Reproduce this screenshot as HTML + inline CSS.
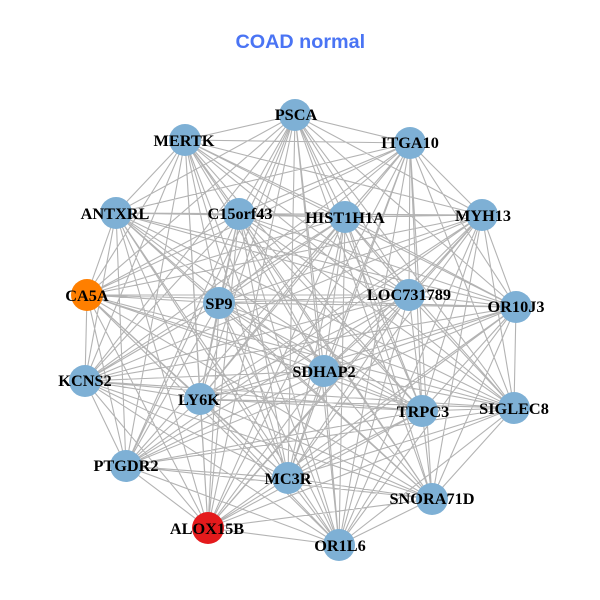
<!DOCTYPE html>
<html><head><meta charset="utf-8"><style>
html,body{margin:0;padding:0;background:#fff}
svg{display:block}
text.n{font-family:"Liberation Serif",serif;font-weight:bold;font-size:16.3px;text-anchor:middle;fill:#000}
</style></head><body>
<svg width="600" height="600" viewBox="0 0 600 600" xmlns="http://www.w3.org/2000/svg">
<rect width="600" height="600" fill="#fff"/>
<text x="300.3" y="48" text-anchor="middle" style="font-family:'Liberation Sans',sans-serif;font-weight:bold;font-size:19.8px" fill="#4a74f4">COAD normal</text>
<path fill="none" stroke="#b3b3b3" stroke-width="1.1" d="
M295 115 185 140M295 115 410 143M295 115 116 213M295 115 239 214M295 115 345 217M295 115 482 215M295 115 87 295M295 115 219 303M295 115 409 295M295 115 516 307M295 115 85 381M295 115 324 371M295 115 200 399M295 115 422 411M295 115 514 408M295 115 126 466M295 115 288 478M295 115 432 499M295 115 208 528M295 115 339 545
M185 140 410 143M185 140 116 213M185 140 239 214M185 140 345 217M185 140 482 215M185 140 87 295M185 140 219 303M185 140 409 295M185 140 516 307M185 140 85 381M185 140 324 371M185 140 200 399M185 140 422 411M185 140 514 408M185 140 126 466M185 140 288 478M185 140 432 499M185 140 208 528M185 140 339 545
M410 143 116 213M410 143 239 214M410 143 345 217M410 143 482 215M410 143 87 295M410 143 219 303M410 143 409 295M410 143 516 307M410 143 85 381M410 143 324 371M410 143 200 399M410 143 422 411M410 143 514 408M410 143 126 466M410 143 288 478M410 143 432 499M410 143 208 528M410 143 339 545
M116 213 239 214M116 213 345 217M116 213 482 215M116 213 87 295M116 213 219 303M116 213 409 295M116 213 516 307M116 213 85 381M116 213 324 371M116 213 200 399M116 213 422 411M116 213 514 408M116 213 126 466M116 213 288 478M116 213 432 499M116 213 208 528M116 213 339 545
M239 214 345 217M239 214 482 215M239 214 87 295M239 214 219 303M239 214 409 295M239 214 516 307M239 214 85 381M239 214 324 371M239 214 200 399M239 214 422 411M239 214 514 408M239 214 126 466M239 214 288 478M239 214 432 499M239 214 208 528M239 214 339 545
M345 217 482 215M345 217 87 295M345 217 219 303M345 217 409 295M345 217 516 307M345 217 85 381M345 217 324 371M345 217 200 399M345 217 422 411M345 217 514 408M345 217 126 466M345 217 288 478M345 217 432 499M345 217 208 528M345 217 339 545
M482 215 87 295M482 215 219 303M482 215 409 295M482 215 516 307M482 215 85 381M482 215 324 371M482 215 200 399M482 215 422 411M482 215 514 408M482 215 126 466M482 215 288 478M482 215 432 499M482 215 208 528M482 215 339 545
M87 295 219 303M87 295 409 295M87 295 516 307M87 295 85 381M87 295 324 371M87 295 200 399M87 295 422 411M87 295 514 408M87 295 126 466M87 295 288 478M87 295 432 499M87 295 208 528M87 295 339 545
M219 303 409 295M219 303 516 307M219 303 85 381M219 303 324 371M219 303 200 399M219 303 422 411M219 303 514 408M219 303 126 466M219 303 288 478M219 303 432 499M219 303 208 528M219 303 339 545
M409 295 516 307M409 295 85 381M409 295 324 371M409 295 200 399M409 295 422 411M409 295 514 408M409 295 126 466M409 295 288 478M409 295 432 499M409 295 208 528M409 295 339 545
M516 307 85 381M516 307 324 371M516 307 200 399M516 307 422 411M516 307 514 408M516 307 126 466M516 307 288 478M516 307 432 499M516 307 208 528M516 307 339 545
M85 381 324 371M85 381 200 399M85 381 422 411M85 381 514 408M85 381 126 466M85 381 288 478M85 381 432 499M85 381 208 528M85 381 339 545
M324 371 200 399M324 371 422 411M324 371 514 408M324 371 126 466M324 371 288 478M324 371 432 499M324 371 208 528M324 371 339 545
M200 399 422 411M200 399 514 408M200 399 126 466M200 399 288 478M200 399 432 499M200 399 208 528M200 399 339 545
M422 411 514 408M422 411 126 466M422 411 288 478M422 411 432 499M422 411 208 528M422 411 339 545
M514 408 126 466M514 408 288 478M514 408 432 499M514 408 208 528M514 408 339 545
M126 466 288 478M126 466 432 499M126 466 208 528M126 466 339 545
M288 478 432 499M288 478 208 528M288 478 339 545
M432 499 208 528M432 499 339 545
M208 528 339 545"/>
<g fill="#7eb0d5">
<circle cx="295" cy="115" r="16"/><circle cx="185" cy="140" r="16"/><circle cx="410" cy="143" r="16"/><circle cx="116" cy="213" r="16"/><circle cx="239" cy="214" r="16"/><circle cx="345" cy="217" r="16"/><circle cx="482" cy="215" r="16"/><circle cx="219" cy="303" r="16"/><circle cx="409" cy="295" r="16"/><circle cx="516" cy="307" r="16"/><circle cx="85" cy="381" r="16"/><circle cx="324" cy="371" r="16"/><circle cx="200" cy="399" r="16"/><circle cx="422" cy="411" r="16"/><circle cx="514" cy="408" r="16"/><circle cx="126" cy="466" r="16"/><circle cx="288" cy="478" r="16"/><circle cx="432" cy="499" r="16"/><circle cx="339" cy="545" r="16"/>
</g>
<circle cx="87" cy="295" r="16" fill="#ff7f00"/>
<circle cx="208" cy="528" r="16" fill="#e41a1c"/>
<text class="n" x="296" y="120">PSCA</text>
<text class="n" x="184" y="146">MERTK</text>
<text class="n" x="410" y="148">ITGA10</text>
<text class="n" x="115" y="219">ANTXRL</text>
<text class="n" x="240" y="219">C15orf43</text>
<text class="n" x="345" y="223">HIST1H1A</text>
<text class="n" x="483" y="221">MYH13</text>
<text class="n" x="87" y="301">CA5A</text>
<text class="n" x="219" y="309">SP9</text>
<text class="n" x="409" y="300">LOC731789</text>
<text class="n" x="516" y="312">OR10J3</text>
<text class="n" x="85" y="386">KCNS2</text>
<text class="n" x="324" y="377">SDHAP2</text>
<text class="n" x="199" y="405">LY6K</text>
<text class="n" x="423" y="417">TRPC3</text>
<text class="n" x="514" y="414">SIGLEC8</text>
<text class="n" x="126" y="471">PTGDR2</text>
<text class="n" x="288" y="484">MC3R</text>
<text class="n" x="432" y="504">SNORA71D</text>
<text class="n" x="207" y="534">ALOX15B</text>
<text class="n" x="340" y="551">OR1L6</text>
</svg>
</body></html>
